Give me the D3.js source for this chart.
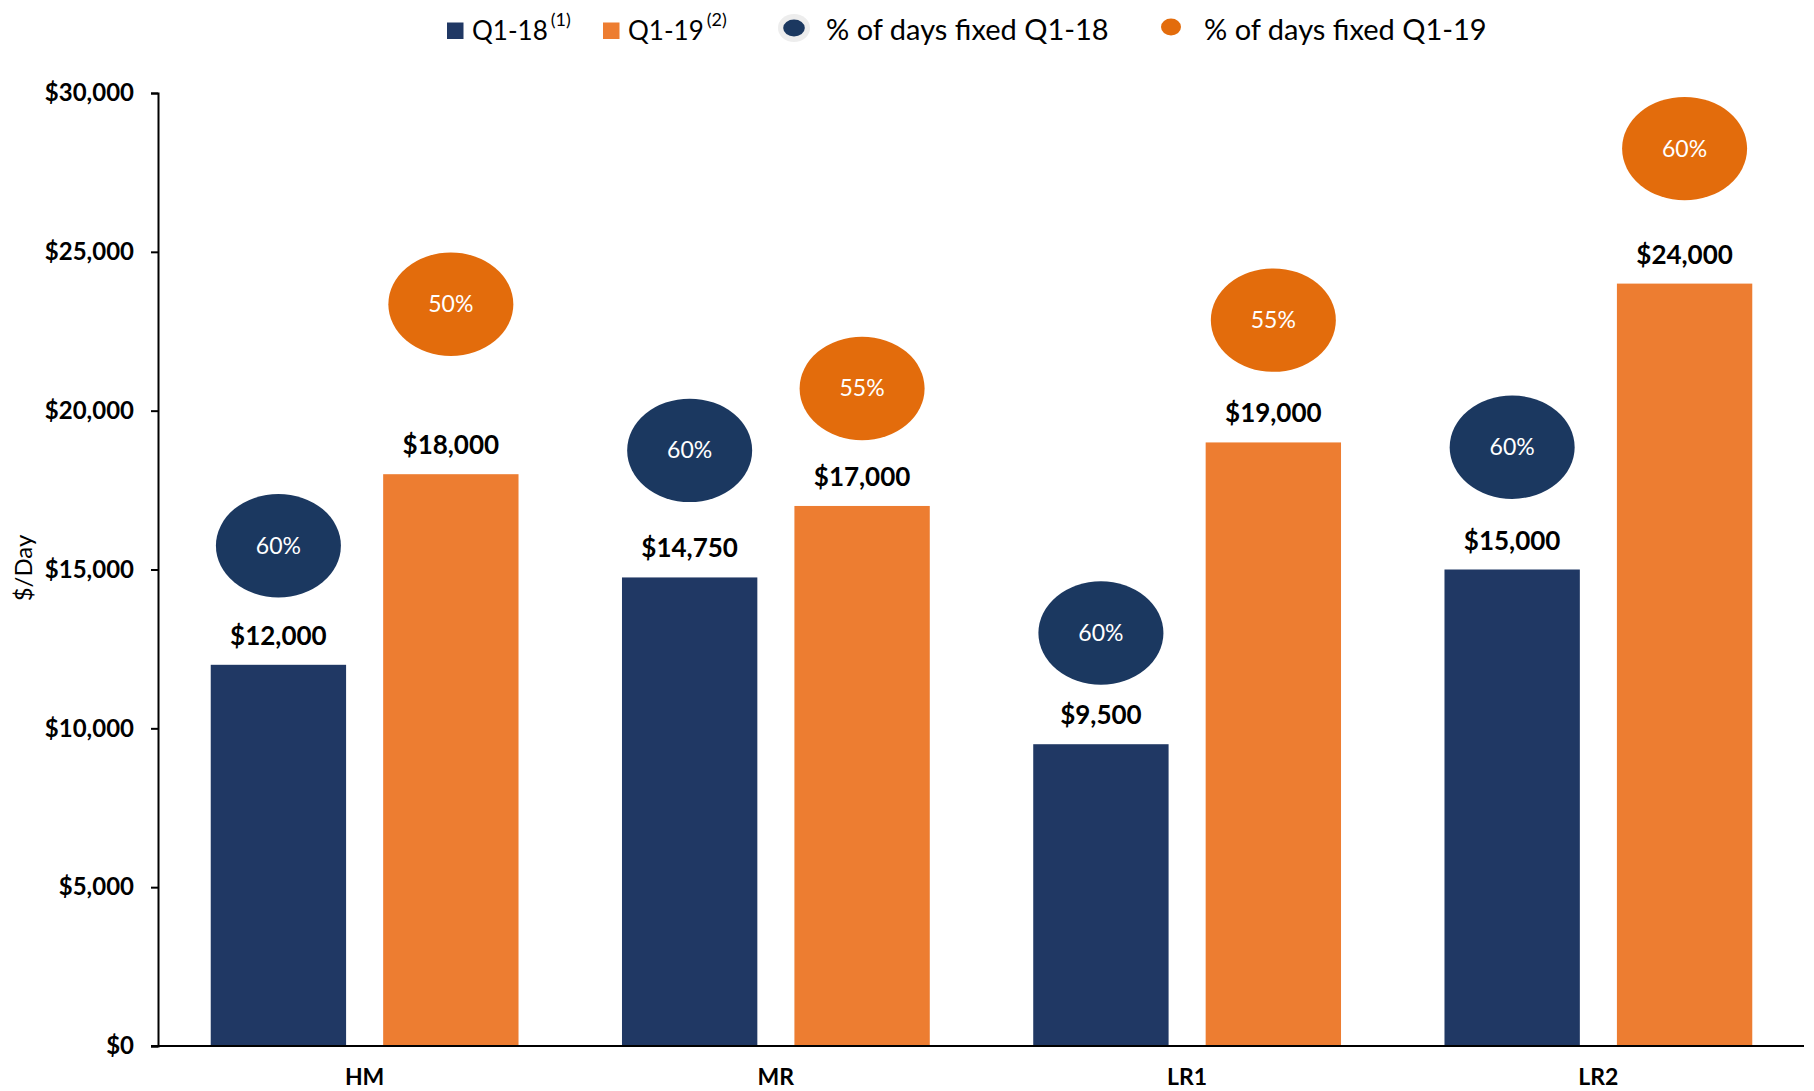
<!DOCTYPE html>
<html>
<head>
<meta charset="utf-8">
<script src="https://cdn.jsdelivr.net/npm/d3@7"></script>
<style>
  body { margin: 0; background: #fff; }
  svg { display: block; font-family: Lato, "Open Sans", sans-serif; }
</style>
</head>
<body>
<div id="chart"></div>
<script>
const WIDTH = 1814;
const HEIGHT = 1091;

// data
const categories = ['HM', 'MR', 'LR1', 'LR2'];
const seriesKeys = ['Q1-18', 'Q1-19'];
const rateQ118 = [12000, 14750, 9500, 15000];
const rateQ119 = [18000, 17000, 19000, 24000];
const fixedQ118 = [60, 60, 60, 60];
const fixedQ119 = [50, 55, 55, 60];
// where the % bubbles sit, in $/Day
const bubbleQ118 = [15750, 18750, 13000, 18850];
const bubbleQ119 = [23350, 20700, 22850, 28250];
const yTicks = [0, 5000, 10000, 15000, 20000, 25000, 30000];

const NAVY = '#203864', ORANGE = '#ED7D31';
const NAVY_DOT = '#1B3860', ORANGE_DOT = '#E36C0C';

const rows = categories.map((c, i) => ({
  cat: c,
  vals: [
    {key: 'Q1-18', v: rateQ118[i], pct: fixedQ118[i], lvl: bubbleQ118[i]},
    {key: 'Q1-19', v: rateQ119[i], pct: fixedQ119[i], lvl: bubbleQ119[i]}
  ]
}));

const svg = d3.select('#chart').append('svg')
  .attr('width', WIDTH).attr('height', HEIGHT);

const y = d3.scaleLinear().domain([0, 30000]).range([1046, 93]);
const x0 = d3.scaleBand().domain(categories).range([159, 1804]);
const x1 = d3.scaleBand().domain(seriesKeys).range([0, x0.bandwidth()])
  .paddingInner(0.215).paddingOuter(0.3);
const fillBar = d3.scaleOrdinal().domain(seriesKeys).range([NAVY, ORANGE]);
const fillDot = d3.scaleOrdinal().domain(seriesKeys).range([NAVY_DOT, ORANGE_DOT]);

// y axis
const yAxis = svg.append('g').attr('transform', 'translate(158,0)')
  .call(d3.axisLeft(y).tickValues(yTicks).tickSize(7).tickPadding(17)
    .tickFormat(d => '$' + d3.format(',')(d)));
yAxis.select('.domain').attr('stroke', '#000').attr('stroke-width', 2);
yAxis.selectAll('.tick line').attr('stroke', '#000').attr('stroke-width', 2);
yAxis.selectAll('.tick text').attr('fill', '#000')
  .attr('font-size', 24).attr('font-weight', 'bold').attr('font-family', 'Lato');

svg.append('text').text('$/Day')
  .attr('transform', 'translate(32,568) rotate(-90)')
  .attr('text-anchor', 'middle').attr('font-size', 24).attr('fill', '#000');

// bars
const groups = svg.append('g').selectAll('g').data(rows).join('g')
  .attr('transform', d => `translate(${x0(d.cat)},0)`);

groups.selectAll('rect').data(d => d.vals).join('rect')
  .attr('x', d => x1(d.key)).attr('width', x1.bandwidth())
  .attr('y', d => y(d.v)).attr('height', d => y(0) - y(d.v))
  .attr('fill', d => fillBar(d.key));

groups.selectAll('text.val').data(d => d.vals).join('text').attr('class', 'val')
  .attr('x', d => x1(d.key) + x1.bandwidth() / 2)
  .attr('y', d => y(d.v) - 20)
  .attr('text-anchor', 'middle').attr('font-size', 26).attr('font-weight', 'bold')
  .attr('fill', '#000')
  .text(d => '$' + d3.format(',')(d.v));

// % of days fixed bubbles
groups.selectAll('ellipse').data(d => d.vals).join('ellipse')
  .attr('cx', d => x1(d.key) + x1.bandwidth() / 2)
  .attr('cy', d => y(d.lvl))
  .attr('rx', 62.5).attr('ry', 51.7)
  .attr('fill', d => fillDot(d.key));

groups.selectAll('text.pct').data(d => d.vals).join('text').attr('class', 'pct')
  .attr('x', d => x1(d.key) + x1.bandwidth() / 2)
  .attr('y', d => y(d.lvl))
  .attr('dy', '0.35em')
  .attr('text-anchor', 'middle').attr('font-size', 23).attr('fill', '#fff')
  .text(d => d.pct + '%');

// x axis
svg.append('line').attr('x1', 151).attr('x2', 1804)
  .attr('y1', y(0)).attr('y2', y(0))
  .attr('stroke', '#000').attr('stroke-width', 2);

svg.append('g').selectAll('text').data(categories).join('text')
  .attr('x', d => x0(d) + x0.bandwidth() / 2)
  .attr('y', 1085)
  .attr('text-anchor', 'middle').attr('font-size', 23).attr('font-weight', 'bold')
  .text(d => d);

// legend
const leg = svg.append('g');
const legSq = [{x: 447, key: 'Q1-18', sup: '(1)'}, {x: 603, key: 'Q1-19', sup: '(2)'}];
legSq.forEach(s => {
  leg.append('rect').attr('x', s.x).attr('y', 22.5).attr('width', 16.5).attr('height', 16.5)
    .attr('fill', fillBar(s.key));
  const t = leg.append('text').attr('x', s.x + 25).attr('y', 39.5).attr('font-size', 26);
  t.append('tspan').text(s.key);
  t.append('tspan').attr('font-size', 18).attr('dx', 3).attr('dy', -14).text(s.sup);
});

leg.append('ellipse').attr('cx', 794).attr('cy', 28).attr('rx', 16).attr('ry', 14).attr('fill', '#EDEDED');
leg.append('ellipse').attr('cx', 794).attr('cy', 28).attr('rx', 10.8).attr('ry', 8.5).attr('fill', NAVY_DOT);
leg.append('text').attr('x', 826).attr('y', 39.5).attr('font-size', 29).text('% of days fixed Q1-18');

leg.append('ellipse').attr('cx', 1171).attr('cy', 27).attr('rx', 10).attr('ry', 8.5).attr('fill', ORANGE_DOT);
leg.append('text').attr('x', 1204).attr('y', 39.5).attr('font-size', 29).text('% of days fixed Q1-19');
</script>
</body>
</html>
